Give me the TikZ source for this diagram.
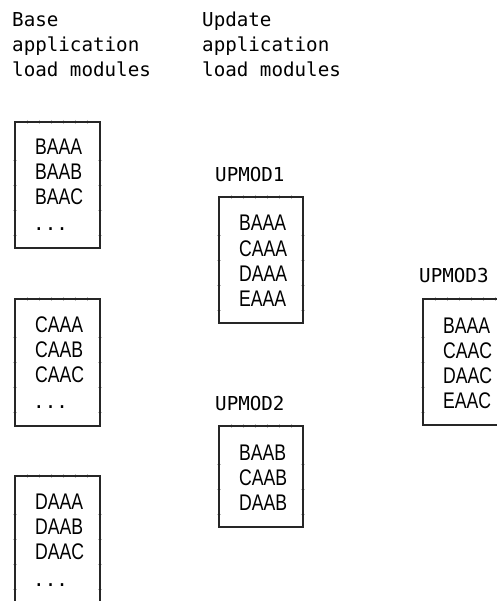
\documentclass[tikz,border=0pt]{standalone}
\usepackage{fontspec}
\newfontfamily\hdrfont{DejaVu Sans Mono}
\newfontfamily\boxfont{Liberation Sans}[FakeStretch=0.78]
\begin{document}
\begin{tikzpicture}[x=1pt,y=-1pt,
  hdr/.style={font=\hdrfont\fontsize{19.2}{25}\selectfont, anchor=base west, inner sep=0pt},
  itm/.style={font=\boxfont\fontsize{22.6}{25}\selectfont, anchor=base west, inner sep=0pt},
  dots/.style={font=\hdrfont\fontsize{19.2}{25}\selectfont, anchor=base west, inner sep=0pt},
  frame/.style={line width=1.4pt, draw=black!85},
  tk/.style={draw=black!25, line width=0.5pt}]
\useasboundingbox (0,0) rectangle (497,601);

% headers
\node[hdr] (h1) at (12,27) {Base};
\node[hdr] (h2) at (12,52) {application};
\node[hdr] (h3) at (12,77) {load modules};
\node[hdr] (u1) at (202,27) {Update};
\node[hdr] (u2) at (202,52) {application};
\node[hdr] (u3) at (202,77) {load modules};

% labels
\node[hdr] (l1) at (215,182) {UPMOD1};
\node[hdr] (l2) at (215,410) {UPMOD2};
\node[hdr] (l3) at (419,282) {UPMOD3};

% ticks on sides
\foreach \L/\R/\T/\B in {15/100/122/248, 15/100/299/426, 15/100/476/601, 219/303/197/323, 219/303/426/527}{
  \foreach \d in {38,63,88,113}{
    \pgfmathsetmacro\yy{\T+\d}
    \ifdim\yy pt<\B pt
      \draw[tk] (\L-2,\yy) -- (\L+2,\yy);
      \draw[tk] (\R-2,\yy) -- (\R+2,\yy);
    \fi
  }
  \foreach \k in {1,...,6}{
    \draw[tk] (\L+12*\k,\T-2) -- (\L+12*\k,\T+2);
  }
}
\foreach \d in {38,63,88,113}{
  \draw[tk] (421,299+\d) -- (425,299+\d);
}
\foreach \k in {1,...,6}{
  \draw[tk] (423+12*\k,297) -- (423+12*\k,301);
}

% base boxes
\draw[frame] (15,122) rectangle (100,248);
\node[itm] (a1) at (35,155) {BAAA};
\node[itm] (a2) at (35,180) {BAAB};
\node[itm] (a3) at (35,205) {BAAC};
\node[dots] (a4) at (33,231) {...};

\draw[frame] (15,299) rectangle (100,426);
\node[itm] (b1) at (35,332) {CAAA};
\node[itm] (b2) at (35,357) {CAAB};
\node[itm] (b3) at (35,382) {CAAC};
\node[dots] (b4) at (33,408) {...};

\draw[frame] (15,601) -- (15,476) -- (100,476) -- (100,601);
\node[itm] (c1) at (35,509) {DAAA};
\node[itm] (c2) at (35,534) {DAAB};
\node[itm] (c3) at (35,559) {DAAC};
\node[dots] (c4) at (33,586) {...};

% update boxes
\draw[frame] (219,197) rectangle (303,323);
\node[itm] (d1) at (239,231) {BAAA};
\node[itm] (d2) at (239,256) {CAAA};
\node[itm] (d3) at (239,281) {DAAA};
\node[itm] (d4) at (239,306) {EAAA};

\draw[frame] (219,426) rectangle (303,527);
\node[itm] (e1) at (239,460) {BAAB};
\node[itm] (e2) at (239,485) {CAAB};
\node[itm] (e3) at (239,510) {DAAB};

\draw[frame] (497,299) -- (423,299) -- (423,425) -- (497,425);
\node[itm] (f1) at (443,333) {BAAA};
\node[itm] (f2) at (443,358) {CAAC};
\node[itm] (f3) at (443,383) {DAAC};
\node[itm] (f4) at (443,408) {EAAC};
\end{tikzpicture}
\end{document}
